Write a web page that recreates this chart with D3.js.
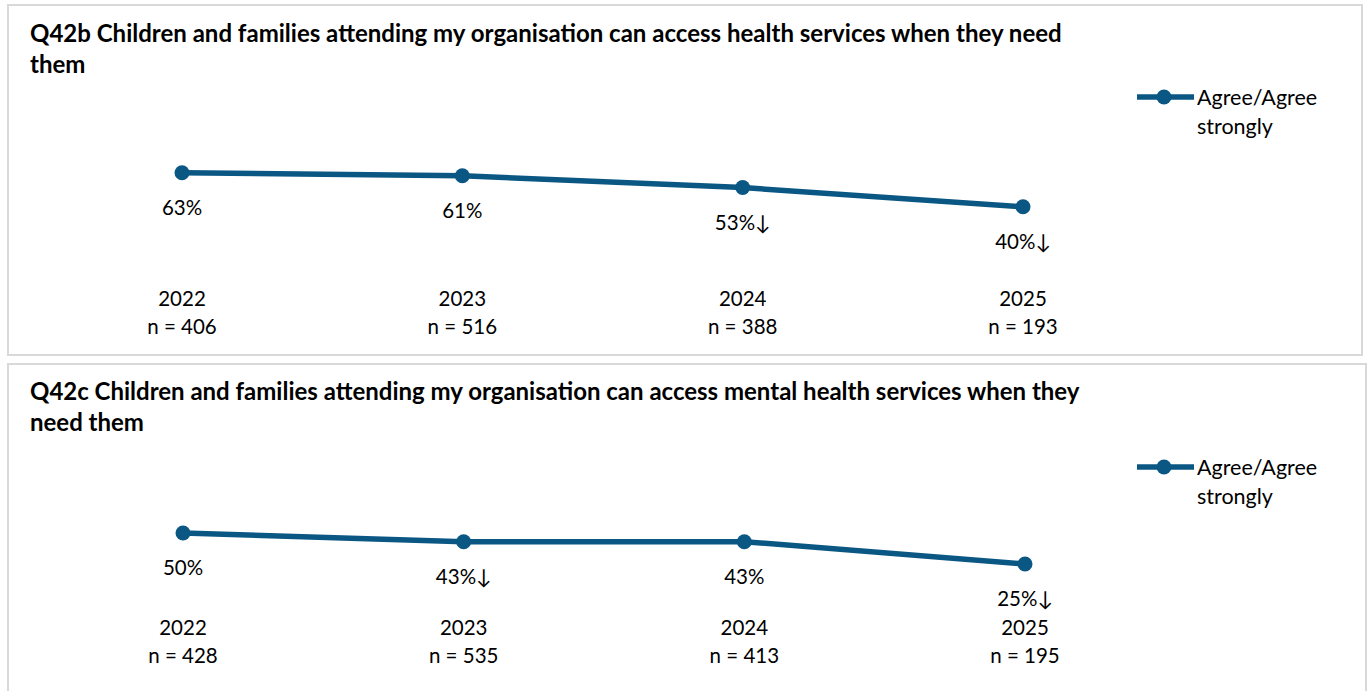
<!DOCTYPE html>
<html><head><meta charset="utf-8">
<script src="https://cdn.jsdelivr.net/npm/d3@7"></script>
<style>
html,body{margin:0;padding:0;background:#fff;overflow:hidden}
text{font-family:Lato,"Open Sans",sans-serif;fill:#000}
</style></head>
<body>
<svg id="chart" width="1367" height="691"></svg>
<script>
const years = ["2022","2023","2024","2025"];
const q42bTitle = ["Q42b Children and families attending my organisation can access health services when they need","them"];
const q42bValues = [63,61,53,40];
const q42bSig = ["","","↓","↓"];
const q42bN = [406,516,388,193];
const q42cTitle = ["Q42c Children and families attending my organisation can access mental health services when they","need them"];
const q42cValues = [50,43,43,25];
const q42cSig = ["","↓","","↓"];
const q42cN = [428,535,413,195];
const seriesName = ["Agree/Agree","strongly"];

const svg = d3.select("#chart");
const color = "#0b5784";

function panel(cfg){
  const g = svg.append("g");
  g.append("rect").attr("x",cfg.box[0]).attr("y",cfg.box[1])
    .attr("width",cfg.box[2]-cfg.box[0]).attr("height",cfg.box[3]-cfg.box[1])
    .attr("fill","#fff").attr("stroke","#d9d9d9").attr("stroke-width",2);
  cfg.title.forEach((t,i)=>{
    const tx = g.append("text").attr("x",30).attr("y",cfg.titleY+i*31)
      .attr("font-weight","bold").attr("font-size",20).text(t);
    if(i===0){
      const w = tx.node().getComputedTextLength();
      const fs = 20*cfg.titleW/w;
      tx.attr("font-size",fs);
      cfg._fs = fs;
    } else tx.attr("font-size",cfg._fs);
  });
  const x = d3.scalePoint().domain(years).range(cfg.xr);
  const y = d3.scaleLinear().domain([0,100]).range(cfg.yr);
  const data = years.map((yr,i)=>({yr,v:cfg.values[i],s:cfg.sig[i],n:cfg.n[i]}));
  g.append("path").datum(data)
    .attr("d",d3.line().x(d=>x(d.yr)).y(d=>y(d.v)))
    .attr("fill","none").attr("stroke",color).attr("stroke-width",5.5);
  g.selectAll("circle.pt").data(data).join("circle")
    .attr("cx",d=>x(d.yr)).attr("cy",d=>y(d.v)).attr("r",7.5).attr("fill",color);
  g.selectAll("text.lbl").data(data).join("text").attr("class","lbl")
    .attr("x",d=>x(d.yr)).attr("y",d=>y(d.v)+35).attr("dy","0.35em")
    .attr("text-anchor","middle").attr("font-size",20.5)
    .text(d=>d.v+"%"+d.s);
  const ax = g.selectAll("g.cat").data(data).join("g").attr("class","cat")
    .attr("transform",d=>`translate(${x(d.yr)},0)`);
  ax.append("text").attr("y",cfg.catY).attr("dy","0.35em").attr("text-anchor","middle")
    .attr("font-size",20.5).text(d=>d.yr);
  ax.append("text").attr("y",cfg.catY+28).attr("dy","0.35em").attr("text-anchor","middle")
    .attr("font-size",20.5).text(d=>"n = "+d.n);
  const lg = g.append("g").attr("transform",`translate(1137,${cfg.legY})`);
  lg.append("line").attr("x1",0).attr("x2",57).attr("stroke",color).attr("stroke-width",5.5);
  lg.append("circle").attr("cx",27).attr("r",7.5).attr("fill",color);
  seriesName.forEach((s,i)=>lg.append("text").attr("x",60).attr("y",i*29).attr("dy","0.35em")
    .attr("font-size",21.5).text(s));
}

panel({box:[8,5,1362,355],title:q42bTitle,titleY:42,titleW:1032,
  values:q42bValues,sig:q42bSig,n:q42bN,xr:[182,1023],yr:[266,118],catY:299,legY:97});
panel({box:[8,364,1366,700],title:q42cTitle,titleY:400,titleW:1050,
  values:q42cValues,sig:q42cSig,n:q42cN,xr:[183,1025],yr:[595,471],catY:628,legY:467});
</script>
</body></html>
